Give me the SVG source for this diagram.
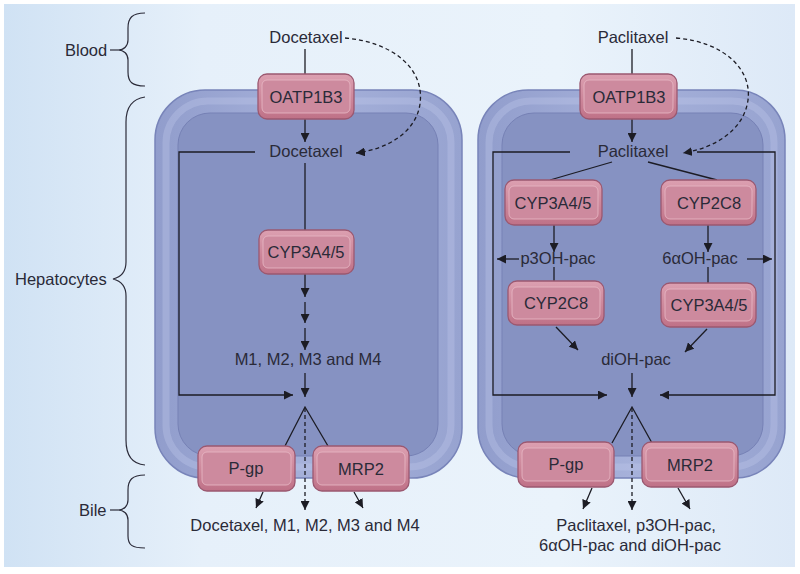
<svg xmlns="http://www.w3.org/2000/svg" width="800" height="574" viewBox="0 0 800 574">
<defs>
<linearGradient id="bg" x1="0" y1="0" x2="1" y2="0">
<stop offset="0" stop-color="#d0e2f4"/>
<stop offset="0.25" stop-color="#e6f0fa"/>
<stop offset="0.7" stop-color="#eaf3fb"/>
<stop offset="1" stop-color="#dde9f7"/>
</linearGradient>
<linearGradient id="pink" x1="0" y1="0" x2="0" y2="1">
<stop offset="0" stop-color="#dca0b1"/>
<stop offset="1" stop-color="#bf7187"/>
</linearGradient>
<linearGradient id="ring" x1="0" y1="0" x2="1" y2="0">
<stop offset="0" stop-color="#919dcc"/>
<stop offset="0.5" stop-color="#a6b1da"/>
<stop offset="1" stop-color="#97a3d0"/>
</linearGradient>
<marker id="ah" viewBox="0 0 10 10" refX="10" refY="5" markerWidth="9" markerHeight="9" markerUnits="userSpaceOnUse" orient="auto">
<path d="M0,0 L10,5 L0,10 z" fill="#1c1c24"/>
</marker>
<style>
text{font-family:"Liberation Sans",Arial,sans-serif;font-size:16.5px;fill:#2a2a38}
.mid{text-anchor:middle}
.ln{fill:none;stroke:#1c1c24;stroke-width:1.3}
.ds{fill:none;stroke:#1c1c24;stroke-width:1.3;stroke-dasharray:4 3}
.br{fill:none;stroke:#2c2c3a;stroke-width:1.2}
.outer{fill:url(#ring);stroke:#7884b9;stroke-width:1.5}
.hl{fill:none;stroke:#c0c9ea;stroke-width:7;opacity:.35}
.inner{fill:#8692c2;stroke:#7681b5;stroke-width:1}
.box{fill:url(#pink);stroke:#9b5870;stroke-width:1.3}
.boxin{fill:#cd8a9e;stroke:#e9b9c6;stroke-width:1;stroke-opacity:.8}
</style>
</defs>
<rect x="4" y="4" width="791" height="563" fill="url(#bg)"/>

<g id="cell-left">
<rect class="outer" x="155" y="90" width="307" height="388" rx="50"/>
<rect class="hl" x="166" y="101" width="285" height="366" rx="42"/>
<rect class="inner" x="178" y="113" width="260" height="343" rx="32"/>
</g>
<g id="cell-right">
<rect class="outer" x="478" y="90" width="307" height="388" rx="50"/>
<rect class="hl" x="489" y="101" width="285" height="366" rx="42"/>
<rect class="inner" x="502" y="113" width="261" height="343" rx="32"/>
</g>

<g id="braces">
<path class="br" d="M145,13 C132,13 128,18 128,28 L128,40 C128,46 124,50 118,50 C124,50 128,54 128,60 L128,72 C128,82 132,86 145,86"/>
<path class="br" d="M110,50 L118,50"/>
<path class="br" d="M145,97 C131,99 126,108 126,122 L126,262 C126,272 121,277 113,279 C121,281 126,286 126,296 L126,440 C126,455 132,464 145,465"/>
<path class="br" d="M145,475 C132,475 128,480 128,490 L128,500 C128,506 124,510 118,510 C124,510 128,514 128,520 L128,536 C128,545 132,548 145,548"/>
<path class="br" d="M110,510 L118,510"/>
</g>
<g id="labels">
<text x="65" y="56">Blood</text>
<text x="15" y="285">Hepatocytes</text>
<text x="79" y="516">Bile</text>
</g>

<g id="connectors">
<line class="ln" x1="305" y1="49" x2="305" y2="74"/>
<path class="ds" d="M345,38 C392,42 425,68 420,104 C416,132 388,149 356,153" marker-end="url(#ah)"/>
<line class="ln" x1="305" y1="119" x2="305" y2="142" marker-end="url(#ah)"/>
<polyline class="ln" points="255,152 179,152 179,395 293,395" marker-end="url(#ah)"/>
<line class="ln" x1="305" y1="163" x2="305" y2="230"/>
<line class="ln" x1="305" y1="274" x2="305" y2="297" marker-end="url(#ah)"/>
<line class="ln" x1="305" y1="302" x2="305" y2="323" marker-end="url(#ah)"/>
<line class="ln" x1="305" y1="328" x2="305" y2="350" marker-end="url(#ah)"/>
<line class="ln" x1="305" y1="373" x2="305" y2="397" marker-end="url(#ah)"/>
<polyline class="ln" points="285,446 305,407 328,446"/>
<line class="ds" x1="305" y1="408" x2="305" y2="510" marker-end="url(#ah)"/>
<line class="ln" x1="263" y1="492" x2="256" y2="508" marker-end="url(#ah)"/>
<line class="ln" x1="354" y1="492" x2="363" y2="508" marker-end="url(#ah)"/>
<line class="ln" x1="632" y1="49" x2="632" y2="74"/>
<path class="ds" d="M676,38 C725,42 752,70 748,100 C744,130 715,148 683,153" marker-end="url(#ah)"/>
<line class="ln" x1="632" y1="119" x2="632" y2="142" marker-end="url(#ah)"/>
<polyline class="ln" points="570,152 493,152 493,395 607,395" marker-end="url(#ah)"/>
<polyline class="ln" points="697,152 775,152 775,395 660,395" marker-end="url(#ah)"/>
<line class="ln" x1="612" y1="162" x2="550" y2="180"/>
<line class="ln" x1="648" y1="162" x2="717" y2="180"/>
<line class="ln" x1="554" y1="225" x2="554" y2="252" marker-end="url(#ah)"/>
<line class="ln" x1="708" y1="225" x2="708" y2="252" marker-end="url(#ah)"/>
<line class="ln" x1="519" y1="259" x2="497" y2="259" marker-end="url(#ah)"/>
<line class="ln" x1="747" y1="259" x2="772" y2="259" marker-end="url(#ah)"/>
<line class="ln" x1="554" y1="267" x2="554" y2="281"/>
<line class="ln" x1="708" y1="267" x2="708" y2="283"/>
<line class="ln" x1="556" y1="327" x2="578" y2="350" marker-end="url(#ah)"/>
<line class="ln" x1="707" y1="329" x2="685" y2="352" marker-end="url(#ah)"/>
<line class="ln" x1="632" y1="373" x2="632" y2="397" marker-end="url(#ah)"/>
<polyline class="ln" points="612,443 632,407 652,443"/>
<line class="ds" x1="632" y1="408" x2="632" y2="510" marker-end="url(#ah)"/>
<line class="ln" x1="592" y1="488" x2="583" y2="509" marker-end="url(#ah)"/>
<line class="ln" x1="678" y1="488" x2="690" y2="509" marker-end="url(#ah)"/>
</g>

<g id="docetaxel-blood"><text class="mid" x="306" y="43">Docetaxel</text></g>
<g id="oatp-left"><rect class="box" x="258" y="74" width="96" height="45" rx="9"/><rect class="boxin" x="262" y="80" width="88" height="33" rx="5"/><text class="mid" x="306" y="103">OATP1B3</text></g>
<g id="docetaxel-cell"><text class="mid" x="306" y="157">Docetaxel</text></g>
<g id="cyp3a4-left"><rect class="box" x="259" y="230" width="95" height="44" rx="9"/><rect class="boxin" x="263" y="236" width="87" height="32" rx="5"/><text class="mid" x="306" y="258">CYP3A4/5</text></g>
<g id="m-metab"><text class="mid" x="308" y="365">M1, M2, M3 and M4</text></g>
<g id="pgp-left"><rect class="box" x="198" y="446" width="97" height="45" rx="9"/><rect class="boxin" x="202" y="452" width="89" height="33" rx="5"/><text class="mid" x="246" y="474">P-gp</text></g>
<g id="mrp2-left"><rect class="box" x="313" y="446" width="96" height="45" rx="9"/><rect class="boxin" x="317" y="452" width="88" height="33" rx="5"/><text class="mid" x="361" y="475">MRP2</text></g>
<g id="bile-left"><text class="mid" x="305" y="531">Docetaxel, M1, M2, M3 and M4</text></g>

<g id="paclitaxel-blood"><text class="mid" x="633" y="43">Paclitaxel</text></g>
<g id="oatp-right"><rect class="box" x="580" y="74" width="97" height="45" rx="9"/><rect class="boxin" x="584" y="80" width="89" height="33" rx="5"/><text class="mid" x="629" y="103">OATP1B3</text></g>
<g id="paclitaxel-cell"><text class="mid" x="633" y="157">Paclitaxel</text></g>
<g id="cyp3a4-r1"><rect class="box" x="505" y="180" width="97" height="45" rx="9"/><rect class="boxin" x="509" y="186" width="89" height="33" rx="5"/><text class="mid" x="553" y="209">CYP3A4/5</text></g>
<g id="cyp2c8-r1"><rect class="box" x="661" y="180" width="95" height="45" rx="9"/><rect class="boxin" x="665" y="186" width="87" height="33" rx="5"/><text class="mid" x="709" y="209">CYP2C8</text></g>
<g id="p3oh"><text class="mid" x="558" y="264">p3OH-pac</text></g>
<g id="a6oh"><text class="mid" x="700" y="264">6αOH-pac</text></g>
<g id="cyp2c8-r2"><rect class="box" x="508" y="281" width="96" height="44" rx="9"/><rect class="boxin" x="512" y="287" width="88" height="32" rx="5"/><text class="mid" x="556" y="309">CYP2C8</text></g>
<g id="cyp3a4-r2"><rect class="box" x="661" y="283" width="95" height="44" rx="9"/><rect class="boxin" x="665" y="289" width="87" height="32" rx="5"/><text class="mid" x="709" y="311">CYP3A4/5</text></g>
<g id="dioh"><text class="mid" x="636" y="365">diOH-pac</text></g>
<g id="pgp-right"><rect class="box" x="518" y="442" width="96" height="45" rx="9"/><rect class="boxin" x="522" y="448" width="88" height="33" rx="5"/><text class="mid" x="566" y="470">P-gp</text></g>
<g id="mrp2-right"><rect class="box" x="642" y="442" width="96" height="45" rx="9"/><rect class="boxin" x="646" y="448" width="88" height="33" rx="5"/><text class="mid" x="690" y="471">MRP2</text></g>
<g id="bile-right"><text class="mid" x="636" y="531">Paclitaxel, p3OH-pac,</text><text class="mid" x="630" y="551">6αOH-pac and diOH-pac</text></g>
</svg>
